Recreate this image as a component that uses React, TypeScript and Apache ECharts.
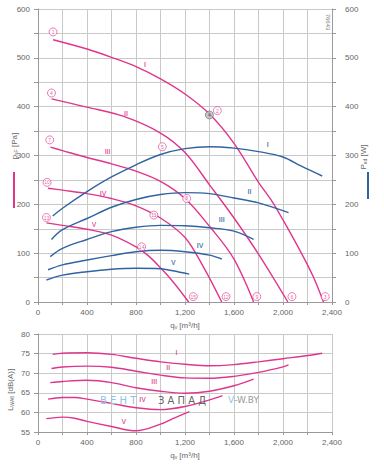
import React, { useEffect, useRef } from 'react';
import * as echarts from 'echarts';

const MAG = '#e0358c';
const BLUE = '#3063a2';
const GRID = '#c9c9c9';
const TXT = '#666666';

// Pressure curves p_sF [Pa] vs q_v [m3/h]
const pressureI = [[123, 537], [400, 518], [600, 501], [800, 482], [1000, 457], [1200, 426], [1400, 385], [1600, 325], [1800, 245], [1900, 210], [2000, 168], [2150, 100], [2250, 50], [2330, 0]];
const pressureII = [[110, 416], [400, 399], [700, 380], [1000, 346], [1200, 306], [1400, 240], [1600, 172], [1800, 98], [2040, 0]];
const pressureIII = [[101, 317], [200, 310], [400, 296], [600, 283], [800, 268], [1000, 247], [1200, 212], [1400, 155], [1600, 88], [1760, 0]];
const pressureIV = [[82, 233], [200, 229], [400, 222], [600, 212], [800, 197], [1000, 172], [1200, 132], [1350, 72], [1500, 0]];
const pressureV = [[69, 162], [200, 157], [400, 149], [600, 137], [800, 113], [900, 95], [1000, 70], [1100, 42], [1230, 0]];

// Power curves P_ed [W]
const powerI = [[120, 176], [200, 192], [400, 226], [600, 256], [800, 281], [1000, 302], [1200, 314], [1400, 318], [1600, 315], [1800, 308], [2000, 297], [2150, 278], [2320, 258]];
const powerII = [[110, 128], [200, 148], [400, 171], [600, 194], [800, 210], [1000, 220], [1200, 224], [1400, 222], [1600, 213], [1800, 203], [2045, 183]];
const powerIII = [[100, 93], [200, 110], [400, 128], [600, 144], [800, 153], [1000, 157], [1200, 156], [1400, 152], [1600, 145], [1760, 128]];
const powerIV = [[82, 66], [200, 76], [400, 86], [600, 95], [800, 103], [1000, 106], [1200, 103], [1400, 96], [1500, 88]];
const powerV = [[69, 45], [200, 55], [400, 62], [600, 67], [800, 69], [1000, 68], [1100, 64], [1235, 57]];

// Noise curves L_WA6 [dB(A)]
const noiseI = [[120, 74.8], [200, 75.1], [400, 75.2], [600, 74.8], [800, 73.8], [1000, 72.9], [1200, 72.3], [1400, 71.9], [1600, 72.2], [1800, 72.9], [2000, 73.7], [2200, 74.5], [2320, 75.1]];
const noiseII = [[110, 71.2], [200, 71.6], [400, 71.8], [600, 71.5], [800, 70.5], [1000, 69.5], [1200, 68.8], [1400, 68.7], [1600, 69.2], [1800, 70.2], [2000, 71.6], [2045, 72.1]];
const noiseIII = [[100, 67.6], [200, 67.9], [400, 68.2], [600, 67.6], [800, 66.3], [1000, 65.4], [1200, 64.9], [1400, 65.4], [1600, 66.8], [1760, 68.5]];
const noiseIV = [[82, 63.4], [200, 63.8], [300, 63.8], [400, 63.4], [600, 62.3], [800, 61.2], [1000, 60.7], [1200, 61.5], [1400, 63.2], [1505, 64.3]];
const noiseV = [[68, 58.4], [200, 58.8], [300, 58.5], [400, 57.7], [600, 56.4], [800, 55.3], [1000, 57.0], [1100, 58.4], [1236, 60.2]];

// Curve tags (Roman numerals)
const pressureTags = [['I', 873, 486], ['II', 718, 387], ['III', 568, 308], ['IV', 532, 223], ['V', 458, 158]];
const powerTags = [['I', 1876, 322], ['II', 1726, 226], ['III', 1500, 168], ['IV', 1323, 115], ['V', 1104, 81]];
const noiseTags = [['I', 1131, 75.3], ['II', 1063, 71.4], ['III', 949, 67.8], ['IV', 854, 63.2], ['V', 701, 57.7]];

// Circled operating-point numbers
const pointMarks = [
  ['1', 123, 553], ['4', 110, 428], ['7', 96, 332], ['10', 74, 245], ['13', 69, 173],
  ['2', 1464, 392], ['5', 1015, 318], ['8', 1214, 212], ['11', 946, 178], ['14', 846, 113],
  ['3', 2345, 11], ['6', 2073, 11], ['9', 1786, 11], ['12', 1535, 11], ['15', 1268, 11],
];
const greyMark = [['4', 1399, 383]];

const fmtQ = (v: number) => (v % 400 === 0 ? v.toLocaleString('en-US') : '');

function line(name: string, data: number[][], color: string, xi: number, yi: number) {
  return {
    type: 'line', name, data, xAxisIndex: xi, yAxisIndex: yi, smooth: 0.35,
    showSymbol: false, symbol: 'none', lineStyle: { color, width: 1.4 }, z: 3,
  };
}

function tags(arr: any[], color: string, xi: number, yi: number) {
  return {
    type: 'scatter', xAxisIndex: xi, yAxisIndex: yi, symbolSize: 0, z: 5,
    data: arr.map((t) => ({ value: [t[1], t[2]], label: { formatter: t[0] } })),
    label: { show: true, position: 'inside', color, fontSize: 7, fontWeight: 'bold', fontFamily: 'Liberation Sans' },
  };
}

export default function App() {
  const ref = useRef<HTMLDivElement>(null);
  useEffect(() => {
    const chart = echarts.init(ref.current!, undefined, { renderer: 'svg' });
    const xBase = {
      type: 'value', min: 0, max: 2400, interval: 200,
      axisLine: { show: true, lineStyle: { color: '#999' } },
      axisTick: { show: true, length: 3, lineStyle: { color: '#999' } },
      axisLabel: { formatter: fmtQ, color: TXT, fontSize: 8, margin: 6, fontFamily: 'Liberation Sans' },
      splitLine: { show: true, lineStyle: { color: GRID, width: 1 } },
    };
    const yTop = {
      type: 'value', min: 0, max: 600, interval: 50,
      axisLine: { show: true, lineStyle: { color: '#999' } },
      axisTick: { show: true, length: 4, lineStyle: { color: '#999' } },
      axisLabel: { formatter: (v: number) => (v % 100 === 0 ? String(v) : ''), color: TXT, fontSize: 8, margin: 8, fontFamily: 'Liberation Sans' },
      splitLine: { show: true, lineStyle: { color: GRID, width: 1 } },
    };
    const sub = (t: string, x: number, y: number, rot: number) => ({
      type: 'text', x, y, rotation: rot,
      style: {
        text: t, align: 'center', verticalAlign: 'middle',
        rich: { a: { fontSize: 8, fill: TXT, fontFamily: 'Liberation Sans' }, b: { fontSize: 5, fill: TXT, verticalAlign: 'bottom', fontFamily: 'Liberation Sans' } },
      },
    });
    const option: any = {
      animation: false,
      grid: [
        { left: 38, right: 52, top: 9, bottom: 162 },
        { left: 38, right: 52, top: 334, bottom: 32 },
      ],
      xAxis: [
        { ...xBase, gridIndex: 0 },
        { ...xBase, gridIndex: 1 },
      ],
      yAxis: [
        { ...yTop, gridIndex: 0, position: 'left' },
        { ...yTop, gridIndex: 0, position: 'right', splitLine: { show: false }, axisLabel: { ...yTop.axisLabel, margin: 13 } },
        {
          type: 'value', gridIndex: 1, min: 55, max: 80, interval: 5,
          axisLine: { show: true, lineStyle: { color: '#999' } },
          axisTick: { show: true, length: 4, lineStyle: { color: '#999' } },
          axisLabel: { color: TXT, fontSize: 8, margin: 8, fontFamily: 'Liberation Sans' },
          splitLine: { show: true, lineStyle: { color: GRID, width: 1 } },
        },
      ],
      series: [
        line('pI', pressureI, MAG, 0, 0),
        line('pII', pressureII, MAG, 0, 0),
        line('pIII', pressureIII, MAG, 0, 0),
        line('pIV', pressureIV, MAG, 0, 0),
        line('pV', pressureV, MAG, 0, 0),
        line('PI', powerI, BLUE, 0, 1),
        line('PII', powerII, BLUE, 0, 1),
        line('PIII', powerIII, BLUE, 0, 1),
        line('PIV', powerIV, BLUE, 0, 1),
        line('PV', powerV, BLUE, 0, 1),
        line('LI', noiseI, MAG, 1, 2),
        line('LII', noiseII, MAG, 1, 2),
        line('LIII', noiseIII, MAG, 1, 2),
        line('LIV', noiseIV, MAG, 1, 2),
        line('LV', noiseV, MAG, 1, 2),
        tags(pressureTags, MAG, 0, 0),
        tags(powerTags, BLUE, 0, 1),
        tags(noiseTags, MAG, 1, 2),
        {
          type: 'scatter', xAxisIndex: 0, yAxisIndex: 0, symbol: 'circle', symbolSize: 8, z: 6,
          itemStyle: { color: '#fff', borderColor: MAG, borderWidth: 0.8 },
          data: pointMarks.map((p) => ({ value: [p[1], p[2]], label: { formatter: p[0] } })),
          label: { show: true, position: 'inside', color: MAG, fontSize: 5, fontFamily: 'Liberation Sans' },
        },
        {
          type: 'scatter', xAxisIndex: 0, yAxisIndex: 0, symbol: 'circle', symbolSize: 8, z: 6,
          itemStyle: { color: '#bbb', borderColor: '#666', borderWidth: 0.8 },
          data: greyMark.map((p) => ({ value: [p[1], p[2]], label: { formatter: p[0] } })),
          label: { show: true, position: 'inside', color: '#333', fontSize: 5, fontFamily: 'Liberation Sans' },
        },
      ],
      graphic: [
        sub('{a|p}{b|sF}{a| [Pa]}', 14, 146, Math.PI / 2),
        { type: 'line', shape: { x1: 14, y1: 172, x2: 14, y2: 208 }, style: { stroke: MAG, lineWidth: 2 } },
        sub('{a|P}{b|ed}{a| [W]}', 363, 157, Math.PI / 2),
        { type: 'line', shape: { x1: 368, y1: 172, x2: 368, y2: 199 }, style: { stroke: BLUE, lineWidth: 2 } },
        sub('{a|L}{b|WA6}{a| [dB(A)]}', 10, 390, Math.PI / 2),
        sub('{a|q}{b|v}{a| [m³/h]}', 185, 325, 0),
        sub('{a|q}{b|v}{a| [m³/h]}', 185, 455, 0),
        {
          type: 'text', x: 328, y: 22, rotation: -Math.PI / 2,
          style: { text: '76643', align: 'center', verticalAlign: 'middle', fontSize: 6, fill: '#777', fontFamily: 'Liberation Sans' },
        },
        {
          type: 'text', x: 100, y: 400, z: 10,
          style: { text: 'В Е Н Т', align: 'left', verticalAlign: 'middle', fontSize: 10, fill: '#8ec3ea', fontFamily: 'DejaVu Sans' },
        },
        {
          type: 'text', x: 158, y: 400, z: 10,
          style: { text: 'З А П А Д', align: 'left', verticalAlign: 'middle', fontSize: 10, fill: '#666', fontFamily: 'DejaVu Sans' },
        },
        {
          type: 'text', x: 228, y: 400, z: 10,
          style: { text: '{a|V}{b|-W.BY}', align: 'left', verticalAlign: 'middle', rich: { a: { fontSize: 9, fill: '#8ec3ea', fontFamily: 'DejaVu Sans' }, b: { fontSize: 9, fill: '#999', fontFamily: 'DejaVu Sans' } } },
        },
      ],
    };
    chart.setOption(option);
    return () => chart.dispose();
  }, []);
  return <div ref={ref} style={{ position: 'fixed', left: 0, top: 0, width: 384, height: 464, background: '#fff' }} />;
}
